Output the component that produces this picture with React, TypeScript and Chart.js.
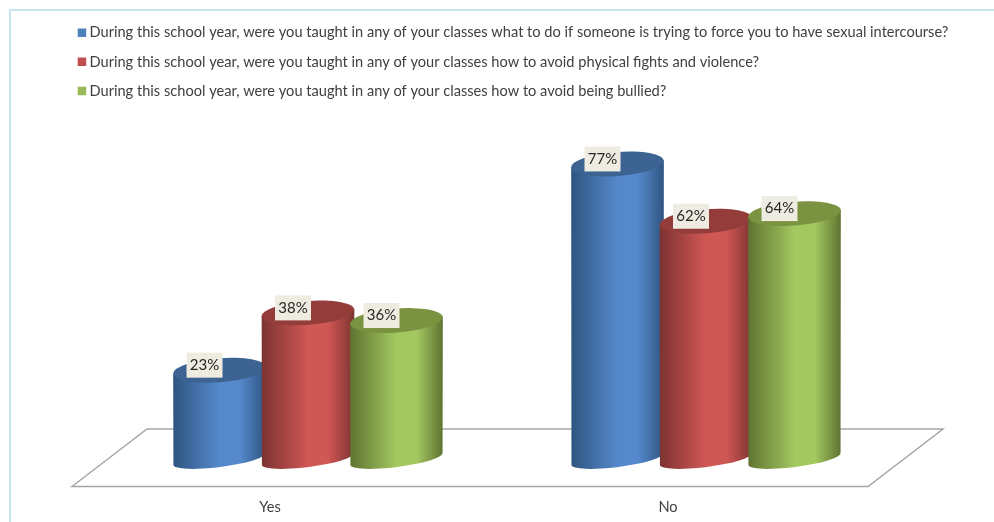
import React, { useEffect, useRef } from "react";
import { Chart, registerables } from "chart.js";

Chart.register(...registerables);

const categories = ["Yes", "No"];
const seriesNames = [
  "During this school year, were you taught in any of your classes what to do if someone is trying to force you to have sexual intercourse?",
  "During this school year, were you taught in any of your classes how to avoid physical fights and violence?",
  "During this school year, were you taught in any of your classes how to avoid being bullied?",
];
const forceValues = [23, 77];
const fightValues = [38, 62];
const bulliedValues = [36, 64];

const baseColors = ["#4F81BD", "#C0504D", "#9BBB59"];
const edgeColors = ["#2F5480", "#7C3331", "#5E7330"];
const midColors = ["#5589CC", "#CF5754", "#A3C860"];
const capColors = ["#3C6391", "#943C3A", "#7A9340"];

const FONT = "Lato, Carlito, sans-serif";
const TEXT = "#404040";

const cylinders = {
  id: "cylinders",
  beforeDraw(chart: any) {
    const { ctx, chartArea: a } = chart;
    ctx.save();
    ctx.strokeStyle = "#C9E4EF";
    ctx.lineWidth = 2;
    ctx.beginPath();
    ctx.moveTo(10, 522);
    ctx.lineTo(10, 10);
    ctx.lineTo(994, 10);
    ctx.stroke();
    ctx.strokeStyle = "#A6A6A6";
    ctx.lineWidth = 1.5;
    ctx.beginPath();
    ctx.moveTo(a.left - 37, a.bottom + 28.5);
    ctx.lineTo(a.left + 38, a.bottom - 29);
    ctx.lineTo(a.right + 38, a.bottom - 29);
    ctx.lineTo(a.right - 37, a.bottom + 28.5);
    ctx.closePath();
    ctx.stroke();
    ctx.restore();
  },
  afterDatasetsDraw(chart: any) {
    const { ctx } = chart;
    const topTilt = (-4.3 * Math.PI) / 180;
    const botTilt = (-7.4 * Math.PI) / 180;
    const labels: any[] = [];
    categories.forEach((_, c) => {
      chart.data.datasets.forEach((ds: any, d: number) => {
        const el = chart.getDatasetMeta(d).data[c];
        const { x, y, base, width } = el.getProps(["x", "y", "base", "width"], true);
        const rx = width / 2;
        const by = base + 1;
        const g = ctx.createLinearGradient(x - rx, 0, x + rx, 0);
        g.addColorStop(0, edgeColors[d]);
        g.addColorStop(0.5, midColors[d]);
        g.addColorStop(0.72, midColors[d]);
        g.addColorStop(1, edgeColors[d]);
        ctx.save();
        ctx.fillStyle = g;
        ctx.beginPath();
        ctx.moveTo(x - rx * Math.cos(topTilt), y - rx * Math.sin(topTilt));
        ctx.lineTo(x - rx * Math.cos(botTilt), by - rx * Math.sin(botTilt));
        ctx.ellipse(x, by, rx, 8, botTilt, Math.PI, 0, true);
        ctx.lineTo(x + rx * Math.cos(topTilt), y + rx * Math.sin(topTilt));
        ctx.closePath();
        ctx.fill();
        ctx.fillStyle = capColors[d];
        ctx.beginPath();
        ctx.ellipse(x, y, rx, 12, topTilt, 0, Math.PI * 2);
        ctx.fill();
        ctx.restore();
        labels.push({ x: x - 15, y: y - 5, text: ds.data[c] + "%" });
      });
    });
    ctx.save();
    ctx.font = "15px " + FONT;
    ctx.textAlign = "center";
    ctx.textBaseline = "middle";
    labels.forEach((l) => {
      ctx.fillStyle = "#EEECE1";
      ctx.fillRect(l.x - 18, l.y - 12.5, 36, 25);
      ctx.fillStyle = "#262626";
      ctx.fillText(l.text, l.x, l.y);
    });
    ctx.restore();
  },
};

export default function App() {
  const ref = useRef<HTMLCanvasElement>(null);
  useEffect(() => {
    document.body.style.margin = "0";
    document.body.style.background = "#fff";
    const chart = new Chart(ref.current as HTMLCanvasElement, {
      type: "bar",
      data: {
        labels: categories,
        datasets: [forceValues, fightValues, bulliedValues].map((data, i) => ({
          label: seriesNames[i],
          data,
          backgroundColor: "rgba(0,0,0,0)",
          categoryPercentage: 0.667,
          barPercentage: 1.05,
          yAxisID: "y",
        })),
      },
      plugins: [cylinders],
      options: {
        animation: false,
        responsive: false,
        layout: { padding: { left: 67.25, right: 20, top: 11, bottom: 6 } },
        plugins: {
          legend: {
            position: "top",
            align: "start",
            onClick: undefined,
            labels: {
              boxWidth: 0.5,
              boxHeight: 0.5,
              padding: 14.45,
              color: TEXT,
              font: { family: FONT, size: 14.62 },
              generateLabels: (c: any) =>
                Chart.defaults.plugins.legend.labels
                  .generateLabels(c)
                  .map((l: any, i: number) => ({
                    ...l,
                    lineWidth: 8,
                    fillStyle: baseColors[i],
                    strokeStyle: baseColors[i],
                  })),
            },
          },
          tooltip: { enabled: false },
        },
        scales: {
          x: {
            afterFit: (s: any) => {
              s.height = 58;
            },
            grid: { display: false },
            border: { display: false },
            ticks: {
              color: TEXT,
              font: { family: FONT, size: 14.62 },
              padding: 33,
              labelOffset: -38,
              maxRotation: 0,
            },
          },
          y: {
            min: 0,
            max: 91.6,
            afterFit: (s: any) => {
              s.width = 41.75;
            },
            grid: { display: false },
            border: { display: false },
            ticks: { display: false },
          },
          y2: {
            position: "right",
            min: 0,
            max: 91.6,
            afterFit: (s: any) => {
              s.width = 69;
            },
            grid: { display: false },
            border: { display: false },
            ticks: { display: false },
          },
        },
      } as any,
    });
    return () => chart.destroy();
  }, []);
  return <canvas ref={ref} width={994} height={522} style={{ display: "block" }} />;
}
